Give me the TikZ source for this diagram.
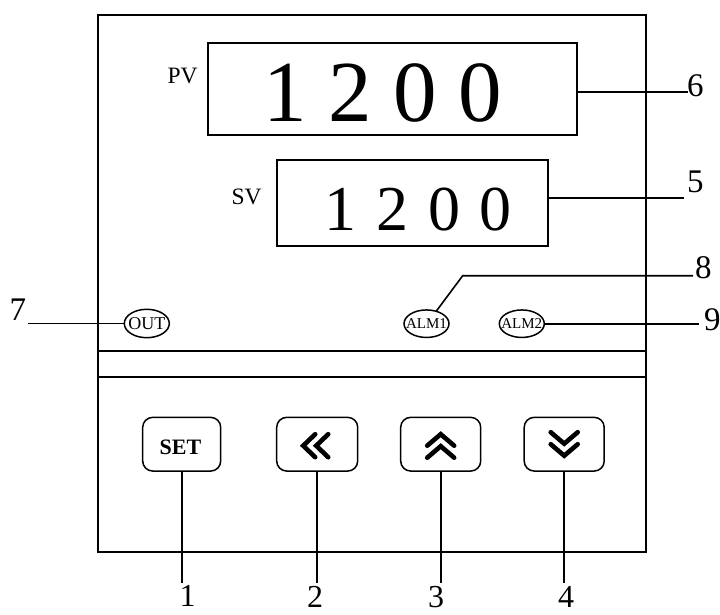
\documentclass[tikz,border=0pt]{standalone}
\usepackage{fontspec}
\setmainfont{Liberation Serif}
\usetikzlibrary{shapes.geometric,calc}
\begin{document}
\begin{tikzpicture}[x=1pt,y=-1pt,line width=1.6pt,
  every node/.style={inner sep=0pt,outer sep=0pt},
  display/.style={draw,rectangle,line width=1.7pt},
  lamp/.style={draw,ellipse,line width=1.5pt,minimum width=45pt,minimum height=27.5pt},
  lamptext/.style={font=\fontsize{15}{15}\selectfont},
  keybox/.style={draw,rectangle,rounded corners=10pt,line width=1.5pt,minimum width=80pt,minimum height=53.7pt},
  chev/.style={line width=4.6pt,line cap=round,line join=miter},
  callout/.style={font=\fontsize{33}{33}\selectfont,anchor=base west},
  keynum/.style={font=\fontsize{32}{32}\selectfont,anchor=base},
  lead/.style={line width=1.6pt}]
\useasboundingbox (0,0) rectangle (720,615);
% panel
\node[draw,rectangle,line width=1.7pt,anchor=north west,minimum width=548.3pt,minimum height=536.4pt] (panel) at (97.7,15.3) {};
\coordinate (d1) at (0,350.7);
\coordinate (d2) at (0,377.3);
\draw[line width=1.7pt] (panel.west |- d1) -- (panel.east |- d1);
\draw[line width=1.7pt] (panel.west |- d2) -- (panel.east |- d2);
% PV display
\node[display,minimum width=368.4pt,minimum height=91.7pt] (pv) at (392.5,89.2) {};
\node[font=\fontsize{87}{87}\selectfont,anchor=base] (pvnum) at (382.8,122) {1 2 0 0};
\node[anchor=base west,font=\fontsize{23.5}{23.5}\selectfont] (pvlbl) at (167.6,84) {PV};
% SV display
\node[display,minimum width=271.6pt,minimum height=85.7pt] (sv) at (412.5,202.85) {};
\node[font=\fontsize{64}{64}\selectfont,anchor=base] (svnum) at (418.4,230) {\spaceskip=19.7pt\relax 1 2 0 0};
\node[anchor=base west,font=\fontsize{23.5}{23.5}\selectfont] (svlbl) at (231.6,204) {SV};
% callouts 6 and 5
\node[callout] (n6) at (687,96.7) {6};
\coordinate (e6) at (688,92.3);
\draw[lead] (pv.east |- e6) -- (e6);
\node[callout] (n5) at (687,192) {5};
\coordinate (e5) at (684,197.7);
\draw[lead] (sv.east |- e5) -- (e5);
% lamps
\node[lamp,minimum height=28.4pt] (out) at (146.8,323.5) {};
\node[font=\fontsize{18}{18}\selectfont] (outtxt) at (out) {OUT};
\node[lamp] (alm1) at (426.5,323.7) {};
\node[lamptext] (alm1txt) at (alm1) {ALM1};
\node[lamp] (alm2) at (521.8,323.7) {};
\node[lamptext] (alm2txt) at (alm2) {ALM2};
% callouts 7, 8, 9
\node[callout] (n7) at (9.5,320) {7};
\coordinate (e7) at (28.3,323.5);
\draw[lead] (e7) -- (out.west);
\node[callout] (n8) at (695,278) {8};
\coordinate (e8) at (693,275.7);
\coordinate (k8) at (462.7,275.7);
\draw[lead] (alm1.52) -- (k8) -- (e8);
\node[callout] (n9) at (704,330) {9};
\coordinate (e9) at (699,323.7);
\draw[lead] (alm2.east) -- (e9);
% keys
\node[keybox,minimum width=78pt] (kset) at (181.7,444.2) {};
\node[font=\bfseries\fontsize{22}{22}\selectfont,anchor=base] (tset) at (180.5,454.3) {SET};
\node[keybox,minimum width=81pt] (kleft) at (317.2,444.2) {};
\node[keybox] (kup) at (440.7,444.2) {};
\node[keybox] (kdown) at (564.2,444.2) {};
\begin{scope}[shift={(kleft.center)}]
  \draw[chev] (-2,-10) -- (-14,1.5) -- (-2,13);
  \draw[chev] (11,-10) -- (-1,1.5) -- (11,13);
\end{scope}
\begin{scope}[shift={(kup.center)}]
  \draw[chev] (-13.5,1.5) -- (0,-10) -- (13.5,1.5);
  \draw[chev] (-13.5,13.5) -- (0,2) -- (13.5,13.5);
\end{scope}
\begin{scope}[shift={(kdown.center)}]
  \draw[chev] (-13.5,-12) -- (0,-0.5) -- (13.5,-12);
  \draw[chev] (-13.5,0) -- (0,11.5) -- (13.5,0);
\end{scope}
% leaders to key numbers
\coordinate (bot) at (0,583.3);
\draw[lead] (kset.south) -- (kset.south |- bot);
\draw[lead] (kleft.south) -- (kleft.south |- bot);
\draw[lead] (kup.south) -- (kup.south |- bot);
\draw[lead] (kdown.south) -- (kdown.south |- bot);
\node[keynum] (n1) at (187.5,606.5) {1};
\node[keynum] (n2) at (315,607) {2};
\node[keynum] (n3) at (436,607.5) {3};
\node[keynum] (n4) at (566,607.5) {4};
\end{tikzpicture}
\end{document}
